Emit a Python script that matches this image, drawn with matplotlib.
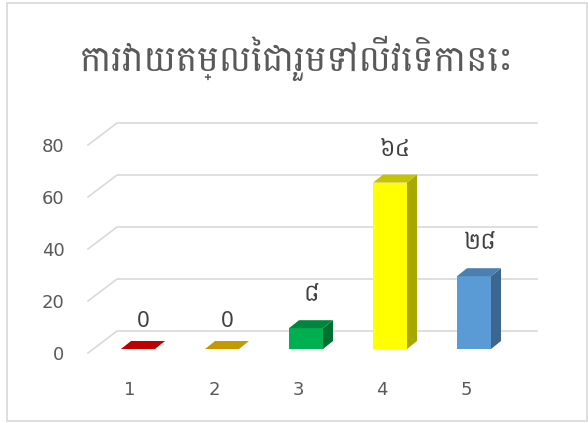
import matplotlib
matplotlib.use('Agg')
import matplotlib.pyplot as plt
from matplotlib.patches import Polygon, Rectangle

# ── Data ────────────────────────────────────────────────────────
categories = ['1', '2', '3', '4', '5']
values = [0, 0, 8, 64, 28]
value_labels = ['0', '0', '៨', '៦៤', '២៨']
title = 'ការវាយតម្លៃជារួមទៅលើវេទិកានេះ'
yticks = [0, 20, 40, 60, 80]

# ── Colours ─────────────────────────────────────────────────────
FRONT = ['#c00000', '#bf9000', '#00b050', '#ffff00', '#5b9bd5']
TOP   = ['#c00000', '#c49a00', '#00863c', '#c4c400', '#4a7fb0']
SIDE  = ['#8c0000', '#8c6a00', '#007030', '#a8a800', '#3b6690']
GRID  = '#d9d9d9'
TXT   = '#595959'
KHMER = ['Battambang', 'Hanuman', 'Khmer', 'DejaVu Sans']

W, H = 588, 423
fig = plt.figure(figsize=(W / 100, H / 100), dpi=100)
fig.patch.set_facecolor('white')

# front plane: x 0.5..5.5 -> px 88..508, y 0..80 -> px 353..145
ax = fig.add_axes([88 / W, (H - 353) / H, 420 / W, 208 / H])
ax.set_xlim(0.5, 5.5)
ax.set_ylim(0, 80)
for s in ax.spines.values():
    s.set_visible(False)
ax.set_facecolor('none')

PX_X = 420 / 5.0      # px per x unit
PX_Y = 208 / 80.0     # px per y unit

# wall depth
wdx, wdy = 29 / PX_X, 22 / PX_Y
for v in yticks:
    ax.plot([0.5, 0.5 + wdx, 5.5 + wdx], [v, v + wdy, v + wdy],
            color=GRID, lw=1.2, clip_on=False, zorder=1)

# bars
bw = 34 / PX_X
shift = 8 / PX_X
base = 4 / PX_Y
bdx, bdy = 10 / PX_X, 8 / PX_Y
xs = [i + 1 for i in range(len(categories))]
bx = [x + shift for x in xs]
ax.bar(bx, values, width=bw, bottom=base, color=FRONT, zorder=3, clip_on=False)
for i, (x, v) in enumerate(zip(bx, values)):
    l, r = x - bw / 2, x + bw / 2
    t = base + v
    top = Polygon([(l, t), (r, t), (r + bdx, t + bdy), (l + bdx, t + bdy)],
                  closed=True, facecolor=TOP[i], edgecolor='none', zorder=3, clip_on=False)
    side = Polygon([(r, base), (r + bdx, base + bdy), (r + bdx, t + bdy), (r, t)],
                   closed=True, facecolor=SIDE[i], edgecolor='none', zorder=3, clip_on=False)
    ax.add_patch(side)
    ax.add_patch(top)
    if v == 0:
        ax.annotate(value_labels[i], (x + bdx / 2, t), xytext=(0, 20), textcoords='offset points',
                    ha='center', va='center', fontsize=16, color='#404040', family='Noto Sans')
    else:
        ax.annotate(value_labels[i], (x + bdx / 2, t), xytext=(0, 24), textcoords='offset points',
                    ha='center', va='center', fontsize=17, color='#404040', family=KHMER)

ax.set_yticks(yticks)
ax.set_yticklabels([str(v) for v in yticks], fontsize=13, color=TXT)
ax.set_xticks(xs)
ax.set_xticklabels(categories, fontsize=13, color=TXT)
ax.tick_params(axis='y', length=0, pad=17)
ax.tick_params(axis='x', length=0, pad=20)

fig.text(297 / W, 1 - 58 / H, title, ha='center', va='center', fontsize=26,
         color=TXT, family=KHMER)

fig.add_artist(Rectangle((6.5 / W, 2.5 / H), 580 / W, 417.5 / H, transform=fig.transFigure,
                         fill=False, edgecolor=GRID, lw=1.2))

plt.savefig('out.png', dpi=100, facecolor='white')
